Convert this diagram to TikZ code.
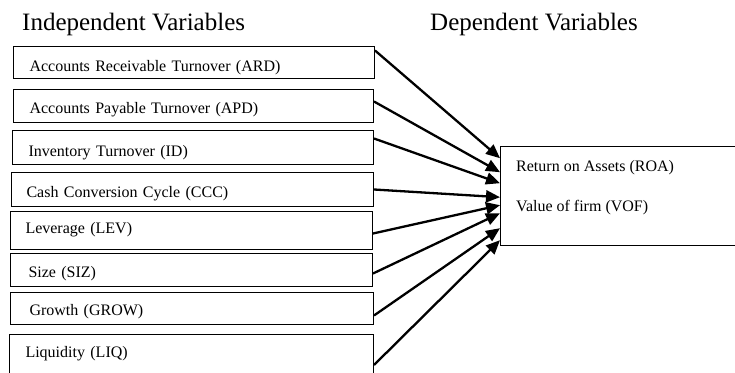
\documentclass[tikz,border=0pt]{standalone}
\usepackage{fontspec}
\setmainfont{Liberation Serif}
\usetikzlibrary{arrows.meta}

\tikzset{
  varbox/.style={draw, line width=1pt, anchor=north west, inner ysep=0pt, align=left, font=\fontsize{16}{19}\selectfont},
  head/.style={anchor=base west, inner sep=0pt, font=\fontsize{25}{30}\selectfont},
  depline/.style={anchor=base west, inner sep=0pt, font=\fontsize{16}{19}\selectfont},
  link/.style={line width=2.3pt, -{Triangle[length=14pt,width=12pt]}}
}

\begin{document}
\begin{tikzpicture}[x=1pt,y=1pt]

    \useasboundingbox (0,0) rectangle (735,372);

    % Headings
    \node[head] (indep) at (22,341) {Independent Variables};
    \node[head] (depend) at (430,341) {Dependent Variables};

    % Independent variables
    \node[varbox, inner xsep=16pt, text width=329pt, text height=24.7pt, text depth=7.3pt] (ard) at (13,326) {Accounts Receivable Turnover (ARD)};
    \node[varbox, inner xsep=16pt, text width=328pt, text height=23.7pt, text depth=9.3pt] (apd) at (13,283) {Accounts Payable Turnover (APD)};
    \node[varbox, inner xsep=16pt, text width=329pt, text height=26pt, text depth=8pt] (id) at (12,242) {Inventory Turnover (ID)};
    \node[varbox, inner xsep=15pt, text width=332pt, text height=24.7pt, text depth=9.3pt] (ccc) at (11,200) {Cash Conversion Cycle (CCC)};
    \node[varbox, inner xsep=15pt, text width=332pt, text height=22pt, text depth=16pt] (lev) at (10,161) {Leverage (LEV)};
    \node[varbox, inner xsep=18pt, text width=326pt, text height=23.7pt, text depth=9.3pt] (siz) at (10,119) {Size (SIZ)};
    \node[varbox, inner xsep=19pt, text width=325pt, text height=23pt, text depth=9pt] (grow) at (10,80) {Growth (GROW)};
    \node[varbox, inner xsep=16pt, text width=332pt, text height=23pt, text depth=20pt] (liq) at (9,38) {Liquidity (LIQ)};

    % Dependent variables (box is cut off at the right edge)
    \node[anchor=north west, inner sep=0pt, minimum width=235pt, minimum height=98pt] (res) at (500,225) {};
    \draw[line width=1pt] (res.north east) -- (res.north west) -- (res.south west) -- (res.south east);
    \node[depline] (roa) at (516,200.5) {Return on Assets (ROA)};
    \node[depline] (vof) at (516,160.3) {Value of firm (VOF)};

    % Links
    \draw[link] ([yshift=12pt]ard.east) -- ([yshift=38pt]res.west);
    \draw[link] ([yshift=4.5pt]apd.east) -- ([yshift=24pt]res.west);
    \draw[link] ([yshift=9pt]id.east) -- ([yshift=13pt]res.west);
    \draw[link] (ccc.east) -- ([yshift=-1pt]res.west);
    \draw[link] ([yshift=-3pt]lev.east) -- ([yshift=-9pt]res.west);
    \draw[link] ([yshift=-3.5pt]siz.east) -- ([yshift=-17pt]res.west);
    \draw[link] ([yshift=-7pt]grow.east) -- ([yshift=-32pt]res.west);
    \draw[link] ([yshift=-9pt]liq.east) -- ([yshift=-44pt]res.west);

\end{tikzpicture}
\end{document}
